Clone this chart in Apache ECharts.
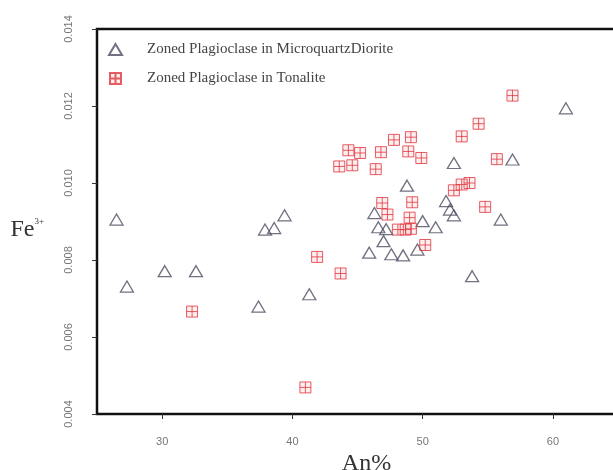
<!DOCTYPE html>
<html>
<head>
<meta charset="utf-8">
<script src="https://cdn.jsdelivr.net/npm/echarts@6/dist/echarts.min.js"></script>
<style>
  html, body { margin: 0; padding: 0; background: #fff; }
  #chart { width: 613px; height: 470px; }
</style>
</head>
<body>
<div id="chart"></div>
<script>
// An% vs Fe3+
const dioriteAn = [26.5, 27.3, 30.2, 32.6, 37.4, 37.9, 38.6, 39.4, 41.3, 45.9, 46.3, 46.6, 47.0, 47.2, 47.6, 48.5, 48.8, 49.6, 50.0, 51.0, 51.8, 52.1, 52.4, 52.4, 53.8, 56.0, 56.9, 61.0];
const dioriteFe = [0.00905, 0.00731, 0.00771, 0.00771, 0.00679, 0.00879, 0.00883, 0.00916, 0.00711, 0.00819, 0.00922, 0.00885, 0.00849, 0.0088, 0.00815, 0.00812, 0.00993, 0.00827, 0.00901, 0.00885, 0.00953, 0.00931, 0.00916, 0.01052, 0.00758, 0.00905, 0.01061, 0.01194];

const tonaliteAn = [56.9, 54.3, 53.0, 49.1, 47.8, 44.3, 45.2, 46.8, 48.9, 49.9, 43.6, 44.6, 46.4, 55.7, 53.6, 53.0, 52.4, 49.2, 54.8, 46.9, 47.3, 49.0, 48.1, 48.7, 49.1, 50.2, 41.9, 43.7, 32.3, 41.0];
const tonaliteFe = [0.01227, 0.01154, 0.01121, 0.01119, 0.01112, 0.01085, 0.01078, 0.0108, 0.01082, 0.01065, 0.01043, 0.01046, 0.01036, 0.01062, 0.01, 0.00996, 0.00981, 0.0095, 0.00938, 0.00948, 0.00918, 0.0091, 0.00879, 0.00879, 0.00881, 0.00839, 0.00808, 0.00765, 0.00666, 0.00469];

const xTicks = [30, 40, 50, 60];

const zip = (xs, ys) => xs.map((x, i) => [x, ys[i]]);

const chart = echarts.init(document.getElementById('chart'));

// square with a plus inside (like R pch 12)
const boxPlus = 'path://M0,0 L10,0 L10,10 L0,10 Z M5,0 L5,10 M0,5 L10,5';

const option = {
  animation: false,
  backgroundColor: '#fff',
  grid: {
    left: 97, right: -5, top: 29, bottom: 56,
    outerBoundsMode: 'none',
    show: true, borderColor: '#111', borderWidth: 2.5, backgroundColor: 'transparent'
  },
  legend: {
    left: 103, top: 37,
    orient: 'vertical',
    itemWidth: 13, itemHeight: 11, itemGap: 14,
    textStyle: { fontFamily: 'Liberation Serif', fontSize: 15, color: '#444', padding: [0, 0, 0, 20] },
    data: ['Zoned Plagioclase in MicroquartzDiorite', 'Zoned Plagioclase in Tonalite']
  },
  xAxis: {
    type: 'value', min: 25, max: 65,
    name: 'An%', nameLocation: 'middle', nameGap: 38,
    nameTextStyle: { fontFamily: 'Liberation Serif', fontSize: 24, color: '#333', padding: [0, 0, 0, 18] },
    axisLine: { show: false },
    axisTick: { show: true, length: 5, customValues: xTicks, lineStyle: { color: '#333' } },
    axisLabel: { customValues: xTicks, margin: 22, fontSize: 11, color: '#777', fontFamily: 'Liberation Sans' },
    splitLine: { show: false }
  },
  yAxis: {
    type: 'value', min: 0.004, max: 0.014, interval: 0.002,
    name: '{a|Fe}{b|3+}', nameLocation: 'middle', nameGap: 53, nameRotate: 0,
    nameTextStyle: {
      align: 'right', padding: [0, 0, -16, 0],
      rich: {
        a: { fontFamily: 'Liberation Serif', fontSize: 24, color: '#333' },
        b: { fontFamily: 'Liberation Serif', fontSize: 9, color: '#333', verticalAlign: 'top', padding: [0, 0, 12, 0] }
      }
    },
    axisLine: { show: false },
    axisTick: { show: true, length: 5, lineStyle: { color: '#333' } },
    axisLabel: {
      rotate: 90, margin: 23, fontSize: 11, color: '#777', fontFamily: 'Liberation Sans',
      formatter: v => v.toFixed(3)
    },
    splitLine: { show: false }
  },
  series: [
    {
      name: 'Zoned Plagioclase in MicroquartzDiorite',
      type: 'scatter',
      symbol: 'triangle',
      symbolSize: [13, 11],
      itemStyle: { color: 'rgba(255,255,255,0)', borderColor: '#4e4e62', borderWidth: 1.3 },
      data: zip(dioriteAn, dioriteFe)
    },
    {
      name: 'Zoned Plagioclase in Tonalite',
      type: 'scatter',
      symbol: boxPlus,
      symbolSize: [11, 11],
      itemStyle: { color: 'rgba(240,120,120,0.15)', borderColor: '#e0353d', borderWidth: 1 },
      data: zip(tonaliteAn, tonaliteFe)
    }
  ]
};

chart.setOption(option);
</script>
</body>
</html>
